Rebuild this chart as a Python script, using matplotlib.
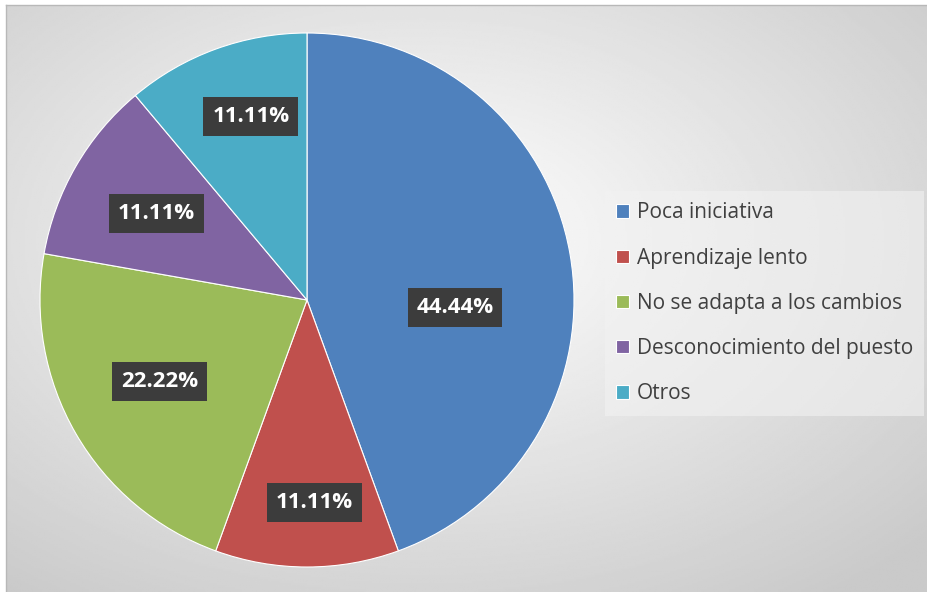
import numpy as np
import matplotlib.pyplot as plt

categorias = ['Poca iniciativa', 'Aprendizaje lento', 'No se adapta a los cambios',
              'Desconocimiento del puesto', 'Otros']
porcentajes = [44.44, 11.11, 22.22, 11.11, 11.11]
colores = ['#4F81BD', '#C0504D', '#9BBB59', '#8064A2', '#4BACC6']
# posicion de cada etiqueta: distancia (fraccion del radio) y giro respecto al centro del sector
dist_etiquetas = [0.555, 0.76, 0.63, 0.65, 0.72]
giro_etiquetas = [-13, 2, -1, 0, -3]

fig = plt.figure(figsize=(9.28, 5.92), dpi=100)
fig.patch.set_facecolor('white')

# fondo con degradado radial
fondo = fig.add_axes([6 / 928, 0, 1 - 6 / 928, 1 - 5 / 592])
h, w = 300, 470
yy, xx = np.mgrid[0:h, 0:w]
d = np.hypot((xx - 0.45 * w) / w, (yy - 0.4 * h) / h)
d = np.clip(d / 0.75, 0, 1)
grad = 1.0 - 0.21 * d
fondo.imshow(grad, cmap='gray', vmin=0, vmax=1, aspect='auto', extent=[0, 1, 0, 1])
fondo.set_axis_off()
fig.add_artist(plt.Line2D([6 / 928, 1], [1 - 5 / 592] * 2, color='#b8b8b8', lw=1))
fig.add_artist(plt.Line2D([6 / 928] * 2, [0, 1 - 5 / 592], color='#b8b8b8', lw=1))

ax = fig.add_axes([(307 - 267) / 928, (592 - 300 - 267) / 592, 534 / 928, 534 / 592])
ax.set_facecolor('none')
wedges, _ = ax.pie(porcentajes, colors=colores, startangle=90, counterclock=False,
                   wedgeprops=dict(edgecolor='white', linewidth=0.8), radius=1)
ax.set_xlim(-1, 1)
ax.set_ylim(-1, 1)

for wg, val, r, g in zip(wedges, porcentajes, dist_etiquetas, giro_etiquetas):
    ang = np.deg2rad((wg.theta1 + wg.theta2) / 2 + g)
    ax.text(r * np.cos(ang), r * np.sin(ang), f'{val:.2f}%', ha='center', va='center',
            color='white', fontsize=16, fontweight='bold', family='Open Sans',
            bbox=dict(boxstyle='square,pad=0.4', facecolor='#3c3c3c', edgecolor='none'))

leg = fig.legend(wedges, categorias, loc='upper left', bbox_to_anchor=(605 / 928, 1 - 191 / 592),
                 frameon=True, fancybox=False, prop={'family': 'Open Sans', 'size': 15},
                 handlelength=0.62, handleheight=0.62, handletextpad=0.35, labelspacing=1.16,
                 borderpad=0.55, borderaxespad=0, labelcolor='#404040')
leg.get_frame().set_facecolor('#f2f2f2')
leg.get_frame().set_alpha(0.6)
leg.get_frame().set_edgecolor('none')

fig.savefig('out.png', dpi=100)
